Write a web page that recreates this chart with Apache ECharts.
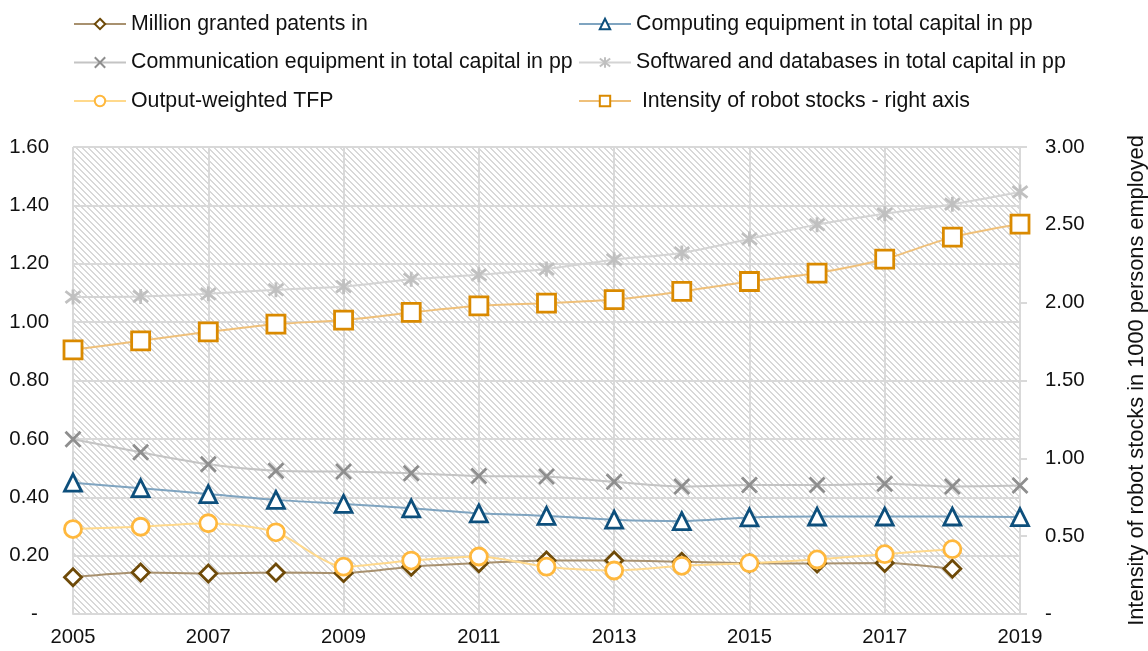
<!DOCTYPE html>
<html>
<head>
<meta charset="utf-8">
<script src="https://cdn.jsdelivr.net/npm/echarts@6/dist/echarts.min.js"></script>
<style>
  html, body { margin: 0; padding: 0; background: #fff; }
  #chart { width: 1148px; height: 651px; }
</style>
</head>
<body>
<div id="chart"></div>
<script>
// data
var years = ['2005','2006','2007','2008','2009','2010','2011','2012','2013','2014','2015','2016','2017','2018','2019'];
var patents   = [0.126,0.142,0.139,0.142,0.140,0.162,0.174,0.183,0.183,0.179,0.174,0.173,0.175,0.155,null];
var computing = [0.450,0.431,0.411,0.391,0.377,0.362,0.345,0.336,0.323,0.318,0.331,0.334,0.334,0.334,0.332];
var comm      = [0.599,0.554,0.513,0.491,0.488,0.482,0.473,0.471,0.453,0.437,0.442,0.442,0.446,0.437,0.440];
var software  = [1.086,1.088,1.097,1.111,1.122,1.147,1.162,1.182,1.214,1.237,1.285,1.334,1.371,1.404,1.446];
var tfp       = [0.291,0.299,0.311,0.280,0.162,0.183,0.197,0.162,0.149,0.165,0.174,0.187,0.205,0.222,null];
var robot     = [1.697,1.755,1.813,1.862,1.888,1.937,1.980,1.997,2.020,2.072,2.136,2.190,2.280,2.421,2.505];

var FONT = '"Liberation Sans", Arial, sans-serif';

// hatch background for the plot area
var T = 6;
var tile = document.createElement('canvas');
tile.width = T; tile.height = T;
var tc = tile.getContext('2d');
tc.fillStyle = '#fff';
tc.fillRect(0, 0, T, T);
tc.fillStyle = '#d8d8d8';
for (var i = 0; i < T; i++) {
  tc.fillRect(i, i, 1, 1);
  tc.fillRect((i + 1) % T, i, 1, 1);
}

var xPath = 'path://M0,0L10,10M10,0L0,10';
var starPath = 'path://M0,0L10,10M10,0L0,10M5,-1.5L5,11.5';

function mk(name, data, lineColor, symbol, size, mColor, yIdx) {
  return {
    name: name, type: 'line', data: data, yAxisIndex: yIdx || 0,
    smooth: 0.25, symbol: symbol, symbolSize: size, showSymbol: true,
    lineStyle: { color: lineColor, width: 2 },
    itemStyle: { color: '#fff', borderColor: mColor, borderWidth: 2.8 },
    emphasis: { disabled: true }
  };
}

var legendText = { fontFamily: FONT, fontSize: 21.3, color: '#111', lineHeight: 21 };

var chart = echarts.init(document.getElementById('chart'));
var option = {
  animation: false,
  textStyle: { fontFamily: FONT },
  legend: [
    {
      orient: 'vertical', left: 73, top: 13.5, padding: 0, itemGap: 17.5,
      itemWidth: 52, itemHeight: 13, textStyle: legendText,
      data: ['Million granted patents in', 'Communication equipment in total capital in pp', 'Output-weighted TFP']
    },
    {
      orient: 'vertical', left: 578, top: 13.5, padding: 0, itemGap: 17.5,
      itemWidth: 52, itemHeight: 13, textStyle: legendText,
      data: ['Computing equipment in total capital in pp', 'Softwared and databases in total capital in pp', ' Intensity of robot stocks - right axis']
    }
  ],
  grid: {
    left: 73, right: 128, top: 147, bottom: 37,
    outerBoundsMode: 'none', containLabel: false,
    show: true, borderWidth: 0,
    backgroundColor: { image: tile, repeat: 'repeat' }
  },
  xAxis: {
    type: 'category', data: years, boundaryGap: false,
    axisLine: { lineStyle: { color: '#d9d9d9', width: 2 } },
    axisTick: { show: false },
    axisLabel: { interval: 1, margin: 13, fontSize: 20.2, color: '#111', fontFamily: FONT },
    splitLine: { show: true, interval: 1, lineStyle: { color: '#d9d9d9', width: 2 } }
  },
  yAxis: [
    {
      type: 'value', min: 0, max: 1.6, interval: 0.2,
      axisLine: { show: false }, axisTick: { show: false },
      axisLabel: {
        margin: 24, fontSize: 20.4, color: '#111', fontFamily: FONT,
        formatter: function (v) { return v === 0 ? '-  ' : v.toFixed(2); }
      },
      splitLine: { lineStyle: { color: '#d9d9d9', width: 2 } }
    },
    {
      type: 'value', min: 0, max: 3, interval: 0.5, position: 'right',
      name: 'Intensity of robot stocks in 1000 persons employed',
      nameLocation: 'middle', nameRotate: 90, nameGap: 106,
      nameTextStyle: { fontSize: 21.8, color: '#111', fontFamily: FONT },
      axisLine: { show: false },
      axisTick: { show: true, length: 7, lineStyle: { color: '#d9d9d9', width: 2 } },
      axisLabel: {
        margin: 25, fontSize: 20.4, color: '#111', fontFamily: FONT,
        formatter: function (v) { return v === 0 ? '-' : v.toFixed(2); }
      },
      splitLine: { show: false }
    }
  ],
  series: [
    mk('Million granted patents in', patents, '#a8916f', 'diamond', 17, '#6e4a08'),
    mk('Computing equipment in total capital in pp', computing, '#7fa4c0', 'triangle', 17, '#0d4f7c'),
    mk('Communication equipment in total capital in pp', comm, '#c4c4c4', xPath, 15, '#8e8e8e'),
    mk('Softwared and databases in total capital in pp', software, '#d4d4d4', starPath, 15, '#c0c0c0'),
    mk('Output-weighted TFP', tfp, '#ffd98c', 'circle', 17, '#ffb83d'),
    mk(' Intensity of robot stocks - right axis', robot, '#efc07a', 'rect', 18, '#da8a00', 1)
  ]
};
chart.setOption(option);
</script>
</body>
</html>
